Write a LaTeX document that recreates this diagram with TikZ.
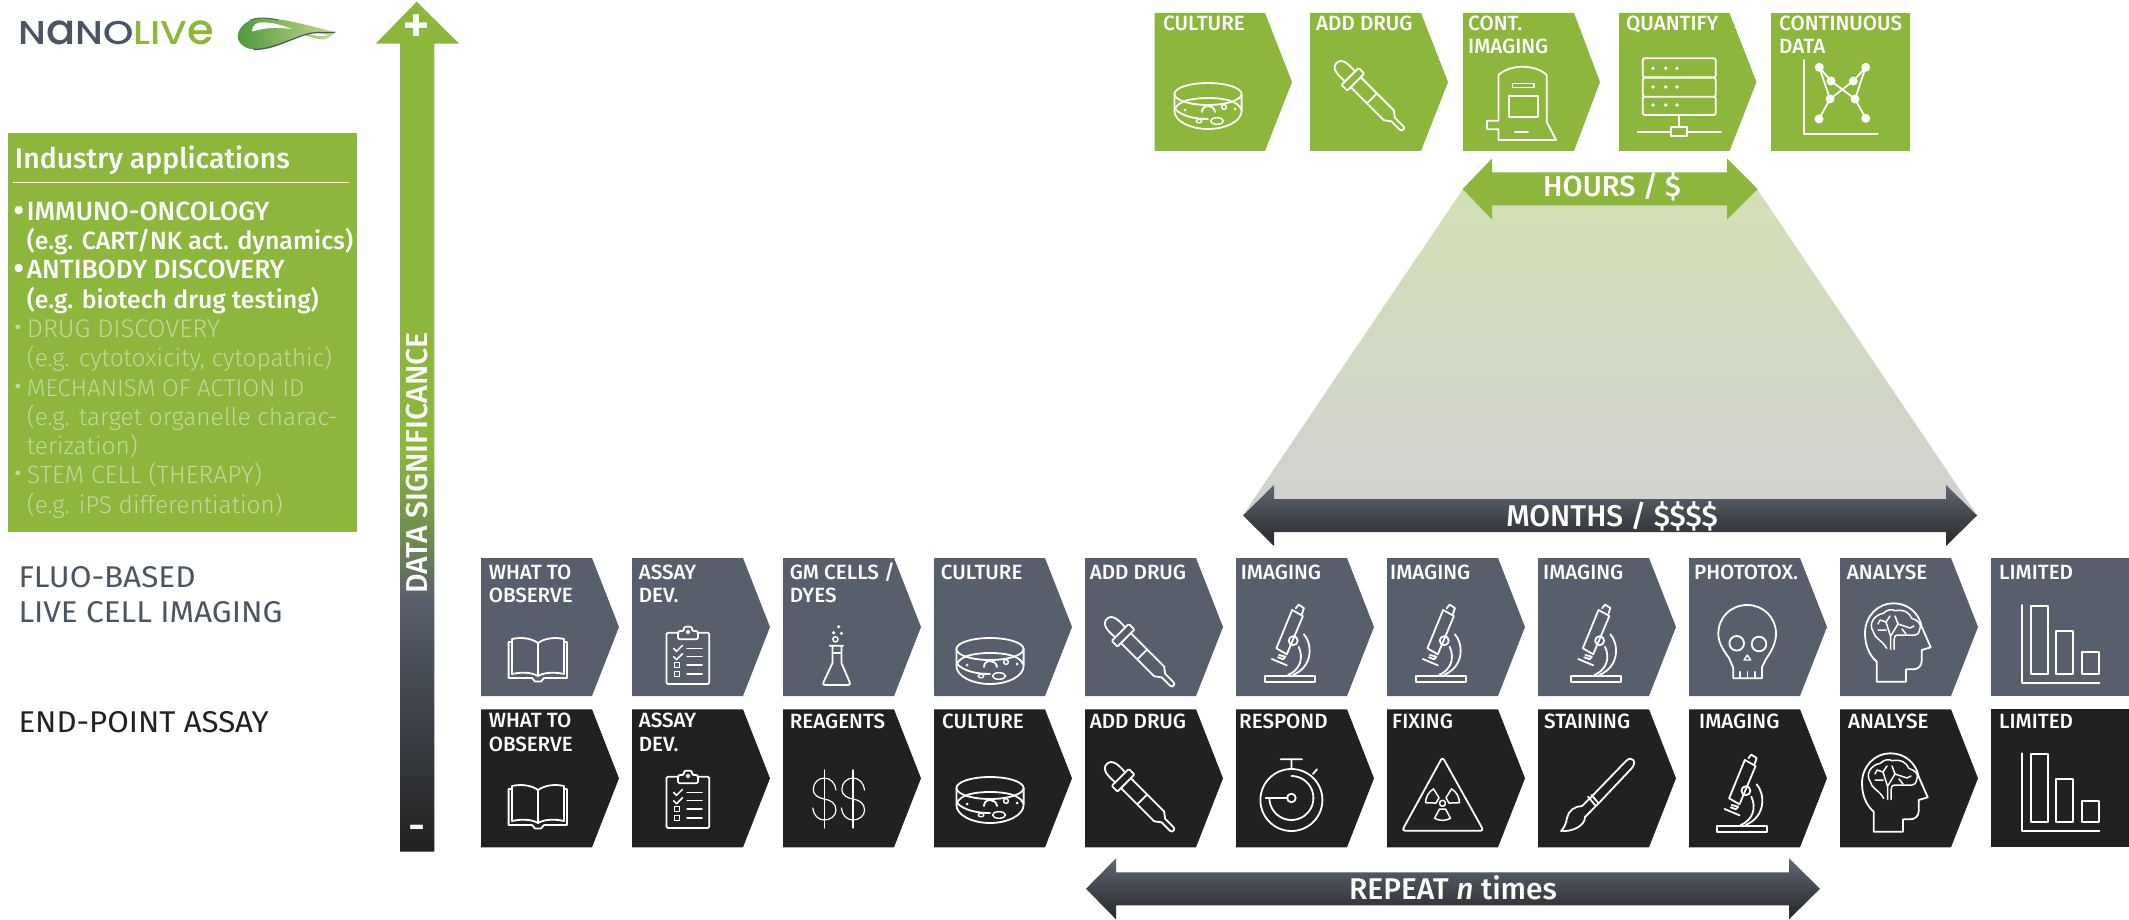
\documentclass[tikz,border=0pt]{standalone}
\usepackage{fontspec}
\usepackage{graphicx}
\setmainfont{Fira Sans}
\newfontfamily\fslight{Fira Sans Light}
\newfontfamily\fsmed{Fira Sans Medium}
\newfontfamily\logofont{Poppins Medium}
\definecolor{nlgreen}{HTML}{8DB63C}
\definecolor{nlslate}{HTML}{565F6B}
\definecolor{nlblack}{HTML}{212121}
\definecolor{nlolive}{HTML}{6D8A52}
\definecolor{nlfaint}{HTML}{C3D89C}
\definecolor{nllogo}{HTML}{4A5564}
\definecolor{swirlA}{HTML}{4F9A3A}
\definecolor{swirlB}{HTML}{C5DA8F}
\definecolor{funnelA}{HTML}{D2E0B5}
\definecolor{funnelB}{HTML}{D1D1D0}
\pgfdeclareverticalshading{axisgrad}{100bp}{color(0bp)=(nlblack); color(25bp)=(nlblack); color(39.8bp)=(nlslate); color(43.3bp)=(nlolive); color(48.6bp)=(nlgreen); color(100bp)=(nlgreen)}
\newcommand{\lblfont}{\fsmed\fontsize{20.6}{23.3}\selectfont}
\newcommand{\blt}{\makebox[10pt][l]{\hspace*{-3.5pt}\raisebox{-1pt}{\fontsize{32}{28}\selectfont •}}}
\newcommand{\chev}[4]{\path[#4] (#1,#2) -- (#1+#3,#2) -- (#1+#3+27,#2+69) -- (#1+#3,#2+138) -- (#1,#2+138) -- cycle;}
\newcommand{\plain}[3]{\path[#3] (#1,#2) rectangle (#1+138,#2+138);}
\newcommand{\dbl}[6]{\path[#6] (#1,#5) -- (#2,#5-30.5) -- (#2,#5-16.5) -- (#3,#5-16.5) -- (#3,#5-30.5) -- (#4,#5) -- (#3,#5+30.5) -- (#3,#5+16.5) -- (#2,#5+16.5) -- (#2,#5+30.5) -- cycle;}
\tikzset{
 ico/.style={draw=white,line width=1.8pt,line join=round,line cap=round,fill=none},
 thinico/.style={draw=white,line width=1.2pt,line join=round,line cap=round,fill=none},
 greenbox/.style={fill=nlgreen},
 slatebox/.style={fill=nlslate},
 blackbox/.style={fill=nlblack},
 lab/.style={anchor=base west,inner sep=0pt,text=white,font=\lblfont,align=left},
 slatearrow/.style={top color=nlslate!95!white,bottom color=nlblack!90!nlslate},
 greenarrow/.style={fill=nlgreen},
 barlabel/.style={anchor=base,inner sep=0pt,text=white,font=\fsmed\fontsize{30}{32}\selectfont},
 strong/.style={anchor=base west,inner sep=0pt,text=white,font=\fsmed\fontsize{24.9}{28}\selectfont},
 strongcaps/.style={strong,font=\fsmed\fontsize{26.3}{28}\selectfont},
 faint/.style={anchor=base west,inner sep=0pt,text=nlfaint,font=\fslight\fontsize{24.4}{28}\selectfont},
 side/.style={anchor=base west,inner sep=0pt,font=\fontsize{30}{32}\selectfont},
 pics/book/.style={code={
  \draw[ico] (31,84) -- (27.6,84) -- (27.6,120) -- (51,120) -- (54,123.5) -- (60,123.5) -- (63,120) -- (86,120) -- (86,84) -- (83,84);
  \draw[ico] (57,85) .. controls (50,80) and (40,79) .. (31,81) -- (31,116) .. controls (40,114) and (50,114) .. (57,118) .. controls (64,114) and (74,114) .. (83,116) -- (83,81) .. controls (74,79) and (64,80) .. (57,85) -- cycle (57,85) -- (57,118);
 }},
 pics/clip/.style={code={
  \draw[ico,rounded corners=1.5pt] (46,74.7) -- (34.4,74.7) -- (34.4,126) -- (77.3,126) -- (77.3,74.7) -- (66,74.7);
  \draw[ico,rounded corners=1.5pt] (46,81.3) -- (46,73) -- (52,73) -- (52,68.7) -- (60,68.7) -- (60,73) -- (66,73) -- (66,81.3) -- cycle;
  \draw[thinico] (56,74) circle[radius=1.8];
  \draw[ico,line width=1.5pt] (41.6,90.3) -- (44.5,93.3) -- (50.5,87.3) (41.6,98.7) -- (44.5,101.7) -- (50.5,95.7);
  \draw[thinico,line width=1.5pt] (42.5,104.5) rectangle (47.5,109.5) (42.5,113.5) rectangle (47.5,118.5);
  \draw[ico,line width=1.5pt] (55,90.3) -- (70,90.3) (55,98.7) -- (70,98.7) (55,107) -- (70,107) (55,116) -- (70,116);
 }},
 pics/petri/.style={code={
  \draw[ico] (56,91) ellipse[x radius=33.6,y radius=11];
  \draw[ico] (22.4,91) -- (22.4,108) .. controls (22.4,118) and (38,126) .. (56,126) .. controls (74,126) and (89.6,118) .. (89.6,108) -- (89.6,91);
  \draw[ico] (23,106) .. controls (26,98) and (40,95) .. (56,95) .. controls (72,95) and (86,98) .. (89,106);
  \draw[ico] (23,106) .. controls (30,113) and (42,116) .. (56,116);
  \draw[ico] (50,109) .. controls (50,101) and (62,101) .. (63,109);
  \draw[ico,line width=1.4pt] (72,104) circle[radius=2.4];
  \draw[ico,line width=1.4pt] (65,118) ellipse[x radius=6.5,y radius=3.3];
  \draw[ico,line width=1.4pt] (47,118) ellipse[x radius=2.8,y radius=1.8];
  \fill[white] (33,107) circle[radius=1.5] (83,106) circle[radius=1.5];
 }},
 pics/dropper/.style={code={
  \begin{scope}[rotate=-45]
  \draw[ico] (19,-7) .. controls (8,-8) and (0,-7) .. (0,0) .. controls (0,7) and (8,8) .. (19,7);
  \draw[ico,rounded corners=1pt] (19,-12) rectangle (27,12);
  \draw[ico] (27,-7) -- (74,-7) -- (80,-2.5) -- (92,-2.5) .. controls (95,-2.5) and (95,2.5) .. (92,2.5) -- (80,2.5) -- (74,7) -- (27,7);
  \draw[ico] (50,-7) -- (50,7);
  \end{scope}
 }},
 pics/microscope/.style={code={
  \draw[ico] (28.6,118) rectangle (78.6,123.7);
  \draw[ico] (56.1,52) -- (66.9,58) -- (50.8,96.3) -- (40.4,90.3) -- cycle;
  \draw[ico] (59.7,50.3) -- (62.6,46.6) -- (67.9,50) -- (66,56);
  \draw[ico] (42.9,97) -- (49.4,98.7) -- (47.2,101.3) -- (41.9,99.3);
  \draw[ico] (35.8,101) -- (50.8,107.3);
  \draw[ico] (57.2,82.7) circle[radius=4.5];
  \draw[ico] (67.9,76.3) .. controls (76,85) and (78,108) .. (57,117);
  \draw[ico] (62.6,88.7) .. controls (68,100) and (64,112) .. (52,117);
 }},
 pics/brainhead/.style={code={
  \draw[ico] (36.7,123.7) -- (36.7,103.7) .. controls (29,97) and (25,87) .. (25,75.3) .. controls (25,58) and (38,45.3) .. (53.3,45.3) .. controls (68,45.3) and (79,55) .. (81.7,68.7) -- (90.7,89.3) -- (81.7,92) -- (81.7,103) .. controls (81.7,108) and (78,111.3) .. (73.3,111.3) -- (66,111.3) -- (66,123.7) -- cycle;
  \draw[ico,line width=1.5pt] (46.7,90.3) .. controls (42,82) and (34,80) .. (33.3,73.7) .. controls (28,66) and (34,57) .. (43.3,55.3) .. controls (48,51) and (52,51) .. (55,52.7) .. controls (64,51) and (70,55) .. (71.7,60.3) .. controls (78,62) and (82,67) .. (80,70.3) .. controls (79,76) and (77,77) .. (75,77) -- (58.3,77) .. controls (55,77) and (54,79) .. (54,82) -- (54,91.3);
  \draw[ico,line width=1.5pt] (50.7,91.3) -- (50.7,78.7) -- (46,64) -- (40,62) (46,72) -- (38,72) (50.7,78) -- (58,66) -- (70,70) (58,66) -- (55,58) (46,64) -- (50,58) (70,70) -- (74,68) (40,62) -- (38,66) (62,71) -- (66,76);
 }},
 pics/barchart/.style={code={
  \draw[ico] (30.7,47) -- (30.7,124.7) -- (108.3,124.7);
  \draw[ico] (39.7,47.7) rectangle (57.3,116) (65,73) rectangle (82.3,116) (90.7,94.3) rectangle (108.3,116);
 }},
 pics/dollar/.style={code={
  \draw[thinico] (11.7,-9) .. controls (11,-16) and (6,-21) .. (0,-21) .. controls (-6,-21) and (-11,-16) .. (-11,-10) .. controls (-11,-3) and (-5,-1) .. (0,0) .. controls (6,1) and (11.7,4) .. (11.7,11) .. controls (11.7,17) and (6,21) .. (0,21) .. controls (-6,21) and (-11,16) .. (-11.5,9);
  \draw[thinico] (0,-29) -- (0,29);
 }},
}
\begin{document}
\begin{tikzpicture}[x=1pt,y=-1pt]
\useasboundingbox (0,0) rectangle (2129,920);
% logo
\node[anchor=base west,inner sep=0pt,font=\logofont\fontsize{33}{36}\selectfont,text=nllogo] (logo) at (18,44.8) {\scalebox{1.17}[1]{N\scalebox{1.12}[1.28]{a}NO}\textcolor{nlgreen}{\scalebox{1.17}[1]{LIV\scalebox{1.12}[1.28]{e}}}};
\path[left color=swirlA,right color=swirlB] (237.7,36.7) .. controls (238,26) and (250,18) .. (260,18) .. controls (280,18) and (300,23) .. (335,32.3) .. controls (330,38) and (325,40) .. (320,39.3) .. controls (313,38) and (308,36) .. (303,35.3) .. controls (295,38) and (285,43) .. (276.7,46) .. controls (268,49) and (260,50) .. (253.3,49.3) .. controls (246,49) and (238,44) .. cycle;
\path[fill=white] (251.7,31) .. controls (253,25) and (256,22.3) .. (262,22.3) .. controls (272,22.3) and (282,25) .. (292,29) .. controls (280,27.5) and (268,27.5) .. (258,30) .. controls (255,31) and (253,31.5) .. cycle;
\path[fill=white] (310,34.3) .. controls (316,32) and (324,34) .. (328,35.5) .. controls (322,36.5) and (316,36) .. cycle;
\draw[nllogo,line width=1.2pt] (253.3,49.3) .. controls (268,50) and (285,42) .. (303,35.3) .. controls (315,31) and (325,33) .. (335,32.3);
\draw[nllogo,line width=0.8pt] (250,20.5) .. controls (256,17) and (268,17.5) .. (278,20);
% axis arrow
\path[shading=axisgrad] (416.7,1.7) -- (459.3,43.7) -- (434.3,43.7) -- (434.3,851.7) -- (400,851.7) -- (400,43.7) -- (375.7,43.7) -- cycle;
\node[anchor=center,inner sep=0pt,text=white,font=\fsmed\fontsize{54}{56}\selectfont] (plus) at (416.7,28.6) {+};
\node[anchor=center,inner sep=0pt,text=white,font=\fsmed\fontsize{42}{44}\selectfont] (minus) at (416.7,833.3) {-};
\node[rotate=90,anchor=center,inner sep=0pt,text=white,font=\fsmed\fontsize{30.2}{32}\selectfont] (dsig) at (417,463) {DATA SIGNIFICANCE};
% panel
\path[fill=nlgreen] (8.3,133.3) rectangle (357.3,532);
\node[anchor=base west,inner sep=0pt,text=white,font=\fsmed\fontsize{28.4}{32}\selectfont] (ptitle) at (14.7,168.7) {Industry applications};
\coordinate (ruleA) at (12.7,182.5);
\coordinate (ruleB) at (348.7,182.5);
\draw[white,line width=1pt] (ruleA) -- (ruleB);
\node[strongcaps] (p1) at (16.7,220.4) {\blt IMMUNO-ONCOLOGY};
\node[strong] (p2) at (26.7,249.7) {(e.g. CART/NK act. dynamics)};
\node[strongcaps] (p3) at (16.7,278.9) {\blt ANTIBODY DISCOVERY};
\node[strong] (p4) at (26.7,308.2) {(e.g. biotech drug testing)};
\node[faint,font=\fslight\fontsize{25.5}{28}\selectfont] (p5) at (16.7,337.5) {\blt DRUG DISCOVERY};
\node[faint] (p6) at (26.7,366.7) {(e.g. cytotoxicity, cytopathic)};
\node[faint,font=\fslight\fontsize{24.2}{28}\selectfont] (p7) at (16.7,396) {\blt MECHANISM OF ACTION ID};
\node[faint] (p8) at (26.7,425.3) {(e.g. target organelle charac-};
\node[faint] (p9) at (26.7,454.5) {terization)};
\node[faint,font=\fslight\fontsize{25}{28}\selectfont] (p10) at (16.7,483.1) {\blt STEM CELL (THERAPY)};
\node[faint] (p11) at (26.7,513) {(e.g. iPS differentiation)};
% side labels
\node[side,text=nllogo] (s1) at (18.3,587.3) {\scalebox{1.05}[1]{FLUO-BASED}};
\node[side,text=nllogo] (s2) at (18.3,622.3) {\scalebox{1.05}[1]{LIVE CELL IMAGING}};
\node[side,text=nlblack] (s3) at (18.3,732.7) {\scalebox{1.04}[1]{END-POINT ASSAY}};
% funnel
\path[top color=funnelA,bottom color=funnelB] (1463,189) -- (1757,189) -- (1977,515) -- (1243,515) -- cycle;
\dbl{1462.7}{1492}{1727}{1757.5}{189}{greenarrow}
\node[barlabel,font=\fsmed\fontsize{29}{32}\selectfont] (hours) at (1612,196.7) {HOURS / \$};
\dbl{1243}{1274}{1946}{1977}{515.5}{slatearrow}
\node[barlabel] (months) at (1612,526) {MONTHS / \$\$\$\$};
\dbl{1086}{1116}{1789}{1820}{888.8}{slatearrow}
\node[barlabel] (repeat) at (1453,899.3) {REPEAT \textit{n} times};
% green row
\path[greenbox] (1154.5,13) -- (1265,13) -- (1292,82) -- (1265,151) -- (1154.5,151) -- cycle;
\path[greenbox] (1310,13) -- (1421,13) -- (1448,82) -- (1421,151) -- (1310,151) -- cycle;
\path[greenbox] (1463,13) -- (1574,13) -- (1600,82) -- (1574,151) -- (1463,151) -- cycle;
\path[greenbox] (1619,13) -- (1729.5,13) -- (1756.5,82) -- (1729.5,151) -- (1619,151) -- cycle;
\path[greenbox] (1771,13) rectangle (1909.6,151);
\node[lab] (g1) at (1163,30.7) {CULTURE};
\node[lab] (g2) at (1316,30.7) {ADD DRUG};
\node[lab] (g3) at (1468,54) {CONT.\\IMAGING};
\node[lab] (g4) at (1626,30.7) {QUANTIFY};
\node[lab] (g5) at (1779,54) {CONTINUOUS\\DATA};
\pic at (1152,3) {petri};
\pic at (1336.6,63) {dropper};
% machine
\draw[ico] (1498.4,120.7) -- (1498.4,75) .. controls (1510,64) and (1535,64) .. (1546.8,75) -- (1546.8,122) -- (1556,140) -- (1498.4,140) -- (1498.4,129.3) -- (1487,129.3) -- (1487,120.7) -- cycle;
\draw[ico] (1508.6,96) rectangle (1538,117.3);
\draw[ico,line width=1.4pt] (1512.7,83.3) rectangle (1534,87.3);
\draw[ico] (1515,131.7) -- (1528,131.7);
% server
\draw[ico,rounded corners=2pt] (1642.8,58.3) rectangle (1715.7,77.3) (1642.8,77.7) rectangle (1715.7,96.7) (1642.8,96.7) rectangle (1715.7,115);
\fill[white] (1653,68.3) circle[radius=1.9] (1665.7,68.3) circle[radius=1.9] (1677,68.3) circle[radius=1.9] (1653,87) circle[radius=1.9] (1665.7,87) circle[radius=1.9] (1677,87) circle[radius=1.9] (1653,105) circle[radius=1.9] (1665.7,105) circle[radius=1.9] (1677,105) circle[radius=1.9];
\draw[ico] (1679,115) -- (1679,127.3) (1637.7,131.7) -- (1670.8,131.7) (1687,131.7) -- (1720.8,131.7);
\draw[ico] (1670.8,127.3) rectangle (1687,136);
% network chart
\draw[ico] (1804.3,60) -- (1804.3,134.3) -- (1877.7,134.3);
\draw[ico] (1819.3,67.3) -- (1831,81) -- (1855,99) -- (1865.7,118.3) (1865.7,67.3) -- (1853.3,81) -- (1830,99) -- (1819,119) (1819.3,67.3) -- (1830,99) (1865.7,67.3) -- (1855,99);
\fill[white] (1819.3,67.3) circle[radius=4.5] (1865.7,67.3) circle[radius=4.5] (1831,81) circle[radius=4.5] (1853.3,81) circle[radius=4.5] (1830,99) circle[radius=4.5] (1855,99) circle[radius=4.5] (1819,119) circle[radius=4.5] (1865.7,118.3) circle[radius=4.5];
% slate row
\chev{481}{558}{111}{slatebox}
\chev{632}{558}{111}{slatebox}
\chev{783}{558}{111}{slatebox}
\chev{934}{558}{111}{slatebox}
\chev{1085}{558}{111}{slatebox}
\chev{1236}{558}{111}{slatebox}
\chev{1387}{558}{111}{slatebox}
\chev{1538}{558}{111}{slatebox}
\chev{1689}{558}{111}{slatebox}
\chev{1840}{558}{111}{slatebox}
\plain{1991}{558}{slatebox}
\node[lab] (a1) at (488.6,602.3) {WHAT TO\\OBSERVE};
\node[lab] (a2) at (638.6,602.3) {ASSAY\\DEV.};
\node[lab] (a3) at (789.6,602.3) {GM CELLS /\\DYES};
\node[lab] (a4) at (940.7,579) {CULTURE};
\node[lab] (a5) at (1089.6,579) {ADD DRUG};
\node[lab] (a6) at (1240.7,579) {IMAGING};
\node[lab] (a7) at (1390,579) {IMAGING};
\node[lab] (a8) at (1543,579) {IMAGING};
\node[lab] (a9) at (1694,579) {PHOTOTOX.};
\node[lab] (a10) at (1846.7,579) {ANALYSE};
\node[lab] (a11) at (1999,579) {LIMITED};
\pic at (481,558) {book};
\pic at (632,558) {clip};
\draw[ico] (829.6,645.7) -- (843.2,645.7) (832.5,645.7) -- (832.5,663) -- (823.6,682) .. controls (822.5,684) and (823,685) .. (825,685) -- (848,685) .. controls (850,685) and (850.5,684) .. (849.6,682) -- (841.4,663) -- (841.4,645.7) (832.5,653) -- (841.4,653);
\fill[white] (838.6,626.7) circle[radius=1.7] (833.6,632.7) circle[radius=1.7] (841.4,633.3) circle[radius=1.7];
\draw[ico,line width=1.4pt] (835.4,639.3) circle[radius=2.6];
\pic at (934,558) {petri};
\pic at (1106.8,619) {dropper};
\pic at (1236,558) {microscope};
\pic at (1387,558) {microscope};
\pic at (1542.4,558) {microscope};
% skull
\draw[ico] (1729,658) .. controls (1723,650) and (1718.3,642) .. (1718.3,634) .. controls (1718.3,617) and (1731,605) .. (1747.3,605) .. controls (1763,605) and (1776,617) .. (1776,634) .. controls (1776,643) and (1771,652) .. (1766,659) -- (1762,667) -- (1762,678.3) -- (1733.3,678.3) -- (1733.3,668) -- cycle;
\draw[ico] (1736.7,643.3) circle[radius=7.3] (1759,644) circle[radius=7.3];
\draw[ico,line width=1.4pt] (1747.3,655) -- (1744,660) -- (1750.7,660) -- cycle;
\draw[ico,line width=1.4pt] (1740,671.7) -- (1740,678.3) (1747.3,671.7) -- (1747.3,678.3) (1755,671.7) -- (1755,678.3);
\pic at (1840,558) {brainhead};
\pic at (1991,558) {barchart};
% black row
\chev{481}{709.3}{111}{blackbox}
\chev{632}{709.3}{111}{blackbox}
\chev{783}{709.3}{111}{blackbox}
\chev{934}{709.3}{111}{blackbox}
\chev{1085}{709.3}{111}{blackbox}
\chev{1236}{709.3}{111}{blackbox}
\chev{1387}{709.3}{111}{blackbox}
\chev{1538}{709.3}{111}{blackbox}
\chev{1689}{709.3}{111}{blackbox}
\chev{1840}{709.3}{111}{blackbox}
\plain{1991}{709.3}{blackbox}
\node[lab] (b1) at (488.6,751) {WHAT TO\\OBSERVE};
\node[lab] (b2) at (638.6,751) {ASSAY\\DEV.};
\node[lab] (b3) at (789.6,728) {REAGENTS};
\node[lab] (b4) at (942,728) {CULTURE};
\node[lab] (b5) at (1089.6,728) {ADD DRUG};
\node[lab] (b6) at (1239,728) {RESPOND};
\node[lab] (b7) at (1392,728) {FIXING};
\node[lab] (b8) at (1544,728) {STAINING};
\node[lab] (b9) at (1699,728) {IMAGING};
\node[lab] (b10) at (1848,728) {ANALYSE};
\node[lab] (b11) at (1999,728) {LIMITED};
\pic at (481,705) {book};
\pic at (632,702) {clip};
\pic at (824.3,799) {dollar};
\pic at (852.9,799) {dollar};
\pic at (934,697) {petri};
\pic at (1106.8,764) {dropper};
% stopwatch
\draw[ico] (1291.4,800) circle[radius=31];
\draw[ico] (1280.7,759.3) -- (1302,759.3) (1291.4,759.3) -- (1291.4,769) (1312.9,774) -- (1317,769.3);
\draw[ico] plot[smooth,samples=40,domain=-90:180] ({1291.4+22*cos(\x)},{798+22*sin(\x)});
\draw[ico] (1265.7,798) -- (1287,798);
\draw[ico] (1291.4,798) circle[radius=4.3];
% radiation
\draw[ico,rounded corners=3pt] (1442.5,757) -- (1402,830.7) -- (1483.6,830.7) -- cycle;
\begin{scope}[shift={(1442.5,803.3)}]
\draw[ico,line width=1.5pt] (0,0) circle[radius=3];
\foreach \a in {90,210,330}{
 \draw[ico,line width=1.5pt] (\a-28:6.5) -- (\a-28:17) .. controls (\a-10:18) and (\a+10:18) .. (\a+28:17) -- (\a+28:6.5) -- cycle;
}
\end{scope}
% brush
\draw[ico] (1598.6,803.3) -- (1631,769) .. controls (1638,762) and (1632,755) .. (1626,761) -- (1596,792);
\draw[ico] (1588,796.7) -- (1595,805) (1591.4,795) -- (1598.6,803.3) (1596,792) -- (1582,806) (1598.6,803.3) -- (1585,817);
\draw[ico] (1582,806) .. controls (1575,806) and (1568,811) .. (1567,818) .. controls (1566,824) and (1564,828) .. (1561,831) .. controls (1572,832) and (1585,826) .. (1585,817);
\pic at (1688.7,708) {microscope};
\pic at (1837,708) {brainhead};
\pic at (1991,706.3) {barchart};
\end{tikzpicture}
\end{document}
